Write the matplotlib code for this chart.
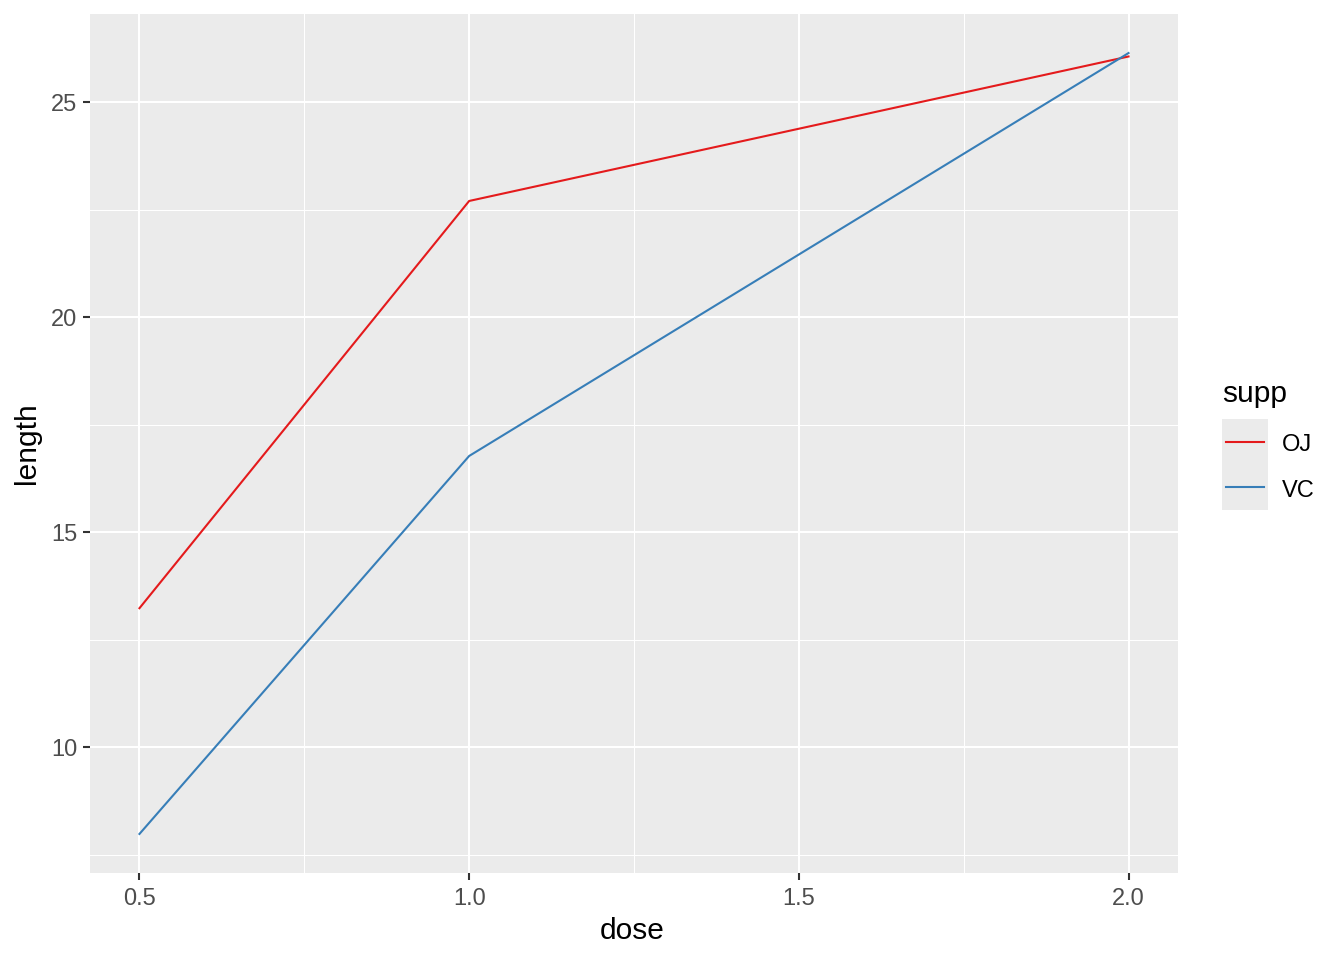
"""ToothGrowth mean length by dose and supplement, ggplot-like look."""

import matplotlib
matplotlib.use("Agg")
import matplotlib.pyplot as plt
from matplotlib.ticker import MultipleLocator

plt.rcParams["font.family"] = ["Liberation Sans", "DejaVu Sans"]

# Data (means of ToothGrowth)
dose = [0.5, 1.0, 2.0]
supp = ["OJ", "VC"]
length_oj = [13.23, 22.70, 26.06]
length_vc = [7.98, 16.77, 26.14]
colors = {"OJ": "#E41A1C", "VC": "#377EB8"}

W, H = 1344, 960
fig = plt.figure(figsize=(W / 100, H / 100), dpi=100)

# Panel
ax = fig.add_axes([90 / W, 1 - 873 / H, (1178 - 90) / W, (873 - 14) / H])
ax.set_facecolor("#EBEBEB")
for s in ax.spines.values():
    s.set_visible(False)

ax.set_xlim(0.425, 2.075)
ax.set_ylim(7.072, 27.048)
ax.xaxis.set_minor_locator(MultipleLocator(0.25))
ax.yaxis.set_major_locator(MultipleLocator(5))
ax.yaxis.set_minor_locator(MultipleLocator(2.5))
ax.set_xticks([0.5, 1.0, 1.5, 2.0])
ax.set_xticklabels(["0.5", "1.0", "1.5", "2.0"])

ax.grid(True, which="major", color="white", linewidth=1.5)
ax.grid(True, which="minor", color="white", linewidth=0.75)
ax.set_axisbelow(True)

ax.tick_params(which="major", length=5, width=1.5, color="#333333",
               labelsize=17, labelcolor="#4D4D4D", pad=4)
ax.tick_params(axis="x", which="major", pad=6)
ax.tick_params(which="minor", length=0)

# Lines
ax.plot(dose, length_oj, color=colors["OJ"], linewidth=1.5)
ax.plot(dose, length_vc, color=colors["VC"], linewidth=1.5)

# Axis titles
fig.text(632 / W, 1 - 931 / H, "dose", fontsize=21.5, ha="center", va="center")
fig.text(27 / W, 1 - 443 / H, "length", fontsize=21.5, ha="center",
         va="center", rotation=90)

# Legend (drawn by hand, ggplot style)
fig.text(1222 / W, 1 - 394 / H, "supp", fontsize=21.5, ha="left", va="center")
lax = fig.add_axes([1222 / W, 1 - 510 / H, 46 / W, 91 / H])
lax.set_facecolor("#EBEBEB")
for s in lax.spines.values():
    s.set_visible(False)
lax.set_xticks([])
lax.set_yticks([])
lax.set_xlim(0, 1)
lax.set_ylim(0, 2)
for i, name in enumerate(supp):
    yc = 1.5 - i
    lax.plot([0.09, 0.91], [yc, yc], color=colors[name], linewidth=1.5)
    fig.text(1282 / W, 1 - (445 + 46 * i) / H, name, fontsize=17,
             ha="left", va="center")

fig.savefig("out.png", dpi=100)
